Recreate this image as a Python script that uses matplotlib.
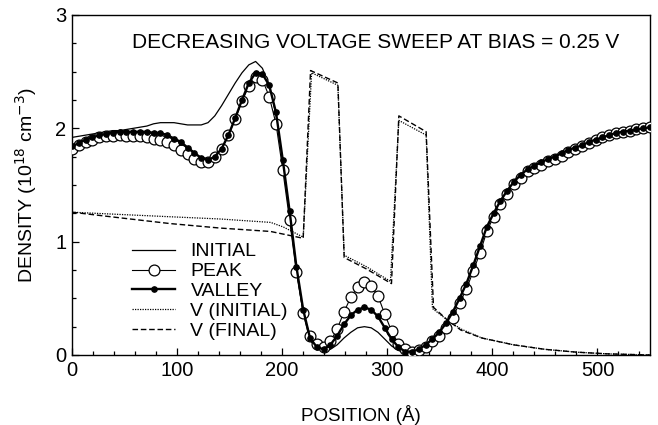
import numpy as np
import matplotlib
matplotlib.use("Agg")
import matplotlib.pyplot as plt
from matplotlib.ticker import MultipleLocator

plt.rcParams['font.family'] = ['Liberation Sans', 'DejaVu Sans']

# mesh positions (Å)
position = [0.0, 6.47, 12.94, 19.41, 25.88, 32.35, 38.82, 45.29, 51.76, 58.24,
            64.71, 71.18, 77.65, 84.12, 90.59, 97.06, 103.53, 110.0, 116.47, 122.94,
            129.41, 135.88, 142.35, 148.82, 155.29, 161.76, 168.24, 174.71, 181.18, 187.65,
            194.12, 200.59, 207.06, 213.53, 220.0, 226.47, 232.94, 239.41, 245.88, 252.35,
            258.82, 265.29, 271.76, 278.24, 284.71, 291.18, 297.65, 304.12, 310.59, 317.06,
            323.53, 330.0, 336.47, 342.94, 349.41, 355.88, 362.35, 368.82, 375.29, 381.76,
            388.24, 394.71, 401.18, 407.65, 414.12, 420.59, 427.06, 433.53, 440.0, 446.47,
            452.94, 459.41, 465.88, 472.35, 478.82, 485.29, 491.76, 498.24, 504.71, 511.18,
            517.65, 524.12, 530.59, 537.06, 543.53, 550.0]

initial = [1.92, 1.93, 1.94, 1.95, 1.96, 1.97, 1.98, 1.98, 1.99, 2.00,
           2.01, 2.02, 2.04, 2.05, 2.05, 2.05, 2.04, 2.03, 2.03, 2.03,
           2.05, 2.11, 2.20, 2.30, 2.40, 2.49, 2.56, 2.59, 2.53, 2.38,
           2.12, 1.70, 1.25, 0.76, 0.37, 0.13, 0.06, 0.04, 0.05, 0.09,
           0.15, 0.20, 0.24, 0.25, 0.24, 0.20, 0.14, 0.08, 0.04, 0.02,
           0.02, 0.04, 0.08, 0.13, 0.19, 0.27, 0.37, 0.49, 0.62, 0.78,
           0.95, 1.12, 1.24, 1.35, 1.44, 1.52, 1.58, 1.63, 1.67, 1.70,
           1.73, 1.75, 1.78, 1.81, 1.83, 1.85, 1.88, 1.90, 1.92, 1.94,
           1.96, 1.97, 1.98, 1.99, 2.00, 2.01]

peak = [1.82, 1.85, 1.88, 1.90, 1.92, 1.93, 1.93, 1.94, 1.93, 1.93,
        1.93, 1.92, 1.91, 1.90, 1.88, 1.85, 1.81, 1.77, 1.73, 1.70,
        1.70, 1.75, 1.82, 1.94, 2.08, 2.24, 2.37, 2.45, 2.43, 2.28,
        2.04, 1.63, 1.19, 0.73, 0.37, 0.17, 0.10, 0.07, 0.12, 0.23,
        0.38, 0.51, 0.60, 0.64, 0.61, 0.52, 0.36, 0.21, 0.10, 0.05,
        0.03, 0.04, 0.07, 0.12, 0.17, 0.24, 0.33, 0.46, 0.58, 0.74,
        0.90, 1.09, 1.22, 1.33, 1.42, 1.51, 1.56, 1.62, 1.65, 1.68,
        1.71, 1.73, 1.76, 1.79, 1.82, 1.84, 1.87, 1.90, 1.92, 1.94,
        1.96, 1.97, 1.98, 1.99, 2.00, 2.01]

valley = [1.84, 1.87, 1.90, 1.92, 1.94, 1.95, 1.96, 1.97, 1.97, 1.97,
          1.97, 1.97, 1.96, 1.96, 1.94, 1.91, 1.88, 1.83, 1.78, 1.74,
          1.72, 1.75, 1.82, 1.94, 2.09, 2.25, 2.40, 2.49, 2.48, 2.38,
          2.14, 1.72, 1.27, 0.78, 0.40, 0.15, 0.07, 0.05, 0.09, 0.17,
          0.27, 0.35, 0.40, 0.42, 0.40, 0.34, 0.24, 0.14, 0.07, 0.03,
          0.03, 0.05, 0.09, 0.14, 0.20, 0.28, 0.38, 0.50, 0.63, 0.79,
          0.96, 1.13, 1.25, 1.36, 1.45, 1.53, 1.59, 1.64, 1.67, 1.70,
          1.73, 1.75, 1.78, 1.81, 1.83, 1.85, 1.88, 1.90, 1.92, 1.94,
          1.96, 1.97, 1.98, 1.99, 2.00, 2.01]

v_initial_x = [0, 46, 93, 141, 189, 201, 220, 228, 253, 259, 280, 303, 311, 337, 343,
               357, 370, 390, 420, 450, 480, 510, 550]
v_initial = [1.26, 1.24, 1.22, 1.20, 1.17, 1.13, 1.04, 2.49, 2.38, 0.88, 0.78, 0.65,
             2.07, 1.94, 0.41, 0.31, 0.23, 0.15, 0.09, 0.05, 0.025, 0.01, 0.0]

v_final_x = [0, 46, 93, 141, 189, 220, 227, 253, 259, 280, 304, 311, 337, 344,
             357, 370, 390, 420, 450, 480, 510, 550]
v_final = [1.26, 1.21, 1.16, 1.12, 1.09, 1.03, 2.51, 2.40, 0.86, 0.76, 0.63,
           2.11, 1.97, 0.42, 0.31, 0.22, 0.15, 0.09, 0.05, 0.025, 0.01, 0.0]

fig = plt.figure(figsize=(6.58, 4.25), dpi=100)
ax = fig.add_axes([72/658, 1-355/425, (650-72)/658, (355-15)/425])

ax.plot(position, initial, color='black', lw=0.9, label='INITIAL', zorder=3)
ax.plot(v_initial_x, v_initial, color='black', lw=0.9, ls=(0, (1, 1)),
        label='V (INITIAL)', zorder=2)
ax.plot(v_final_x, v_final, color='black', lw=1.0, ls=(0, (4, 2)),
        label='V (FINAL)', zorder=2)
ax.plot(position, peak, color='black', lw=0.8, marker='o', ms=7.8,
        mfc='white', mec='black', mew=0.9, label='PEAK', zorder=4)
ax.plot(position, valley, color='black', lw=1.7, marker='o', ms=3.8,
        mfc='black', mec='black', label='VALLEY', zorder=5)

ax.set_xlim(0, 550)
ax.set_ylim(0, 3)
ax.xaxis.set_major_locator(MultipleLocator(100))
ax.xaxis.set_minor_locator(MultipleLocator(20))
ax.yaxis.set_major_locator(MultipleLocator(1))
ax.yaxis.set_minor_locator(MultipleLocator(0.25))
ax.tick_params(which='both', direction='in', top=False, right=False,
               labelsize=14.5, width=0.9)
ax.tick_params(which='major', length=5, pad=4)
ax.tick_params(which='minor', length=3)
for s in ax.spines.values():
    s.set_linewidth(1.0)

ax.set_xlabel('POSITION (Å)', fontsize=13.5, labelpad=18)
ax.set_ylabel('DENSITY (10$^{18}$ cm$^{-3}$)', fontsize=14, labelpad=12)

ax.text(289, 2.76, 'DECREASING VOLTAGE SWEEP AT BIAS = 0.25 V',
        ha='center', va='center', fontsize=15)

handles, labels = ax.get_legend_handles_labels()
order = ['INITIAL', 'PEAK', 'VALLEY', 'V (INITIAL)', 'V (FINAL)']
hmap = dict(zip(labels, handles))
ax.legend([hmap[k] for k in order], order, loc='upper left',
          bbox_to_anchor=(0.104, 0.33), frameon=False, fontsize=14,
          handlelength=2.2, handletextpad=0.8, labelspacing=0.12,
          borderpad=0, borderaxespad=0, markerscale=1.0)

fig.savefig('out.png', dpi=100)
